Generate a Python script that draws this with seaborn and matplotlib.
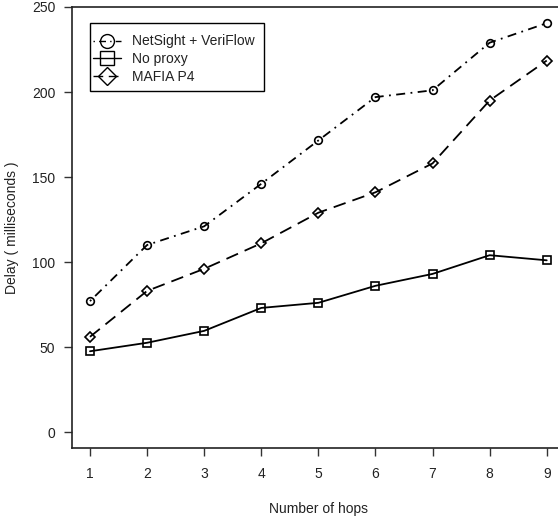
import numpy as np
import pandas as pd
import matplotlib
matplotlib.use("Agg")
import matplotlib.pyplot as plt
from matplotlib.lines import Line2D
from matplotlib.patches import Rectangle
import seaborn as sns

# Delay measurements (ms) per number of hops
hops = [1, 2, 3, 4, 5, 6, 7, 8, 9]
netsight_veriflow = [77, 110, 121, 146, 171.5, 197, 201, 229, 240.5]
no_proxy = [47.5, 52.5, 59.5, 73, 76, 86, 93, 104, 101]
mafia_p4 = [56, 83, 96, 111, 129, 141, 158, 195, 218.5]

series_names = ["NetSight + VeriFlow", "No proxy", "MAFIA P4"]
y_ticks = [0, 50, 100, 150, 200, 250]

df = pd.DataFrame({
    "hops": hops * 3,
    "delay": netsight_veriflow + no_proxy + mafia_p4,
    "series": [series_names[0]] * 9 + [series_names[1]] * 9 + [series_names[2]] * 9,
})

sns.set_style("white")
plt.rcParams["font.family"] = ["Liberation Sans", "DejaVu Sans"]

fig = plt.figure(figsize=(5.58, 5.21), dpi=100)
W, H = 558, 521
# axes box in pixels: left 72, top 7, bottom 448, right beyond the canvas
left_px, top_px, bottom_px, right_px = 72, 7, 448, 565
ax = fig.add_axes([left_px / W, 1 - bottom_px / H,
                   (right_px - left_px) / W, (bottom_px - top_px) / H])

styles = {
    series_names[0]: dict(marker="o", dashes=(1, 3, 5, 3)),
    series_names[1]: dict(marker="s", dashes=""),
    series_names[2]: dict(marker="D", dashes=(7, 4)),
}

lw = 1.3
sns.lineplot(
    data=df, x="hops", y="delay", hue="series", style="series",
    palette={n: "black" for n in series_names},
    dashes={n: styles[n]["dashes"] for n in series_names},
    markers={n: styles[n]["marker"] for n in series_names},
    markersize=5.5, markerfacecolor="none", markeredgecolor="black",
    markeredgewidth=1.2, linewidth=lw, legend=False, ax=ax,
)

ax.set_xlim(0.685, 9.32)
ax.set_ylim(-9.4, 250)
ax.set_xticks(hops)
ax.set_yticks(y_ticks)

txt_color = "#222222"
fs = 10
ax.tick_params(axis="both", direction="out", length=6, width=1,
               bottom=True, left=True, top=False, right=False,
               color="#333333", labelcolor=txt_color, labelsize=fs)
ax.tick_params(axis="y", pad=6)
ax.tick_params(axis="x", pad=8)

for side in ["left", "bottom", "top"]:
    ax.spines[side].set_visible(True)
    ax.spines[side].set_color("#222222")
    ax.spines[side].set_linewidth(1.2)
ax.spines["right"].set_visible(False)

ax.set_xlabel("Number of hops", fontsize=fs, color=txt_color, labelpad=15)
ax.set_ylabel("Delay ( milliseconds )", fontsize=fs, color=txt_color, labelpad=9)
ax.grid(False)

handles = []
for n in series_names:
    d = styles[n]["dashes"]
    ls = "-" if d == "" else (0, d)
    handles.append(Line2D([0], [0], color="black", linewidth=1.0, linestyle=ls,
                          marker=styles[n]["marker"],
                          markersize=10 if styles[n]["marker"] != "D" else 9,
                          markerfacecolor="none", markeredgecolor="black",
                          markeredgewidth=1.0))

# legend box frame (drawn separately for R-like uneven padding)
ax.add_patch(Rectangle((90 / W, 1 - 91 / H), (264 - 90) / W, (91 - 23) / H,
                       transform=fig.transFigure, facecolor="white",
                       edgecolor="black", linewidth=1.0, zorder=5, clip_on=False))
leg = ax.legend(handles, series_names, loc="upper left",
                bbox_to_anchor=(93 / W, 1 - 34.5 / H), bbox_transform=fig.transFigure,
                borderaxespad=0, fontsize=fs, frameon=False,
                handlelength=2.0, handletextpad=0.8, borderpad=0.0,
                labelspacing=0.27)
leg.set_zorder(6)
for t in leg.get_texts():
    t.set_color(txt_color)

fig.savefig("out.png", dpi=100)
